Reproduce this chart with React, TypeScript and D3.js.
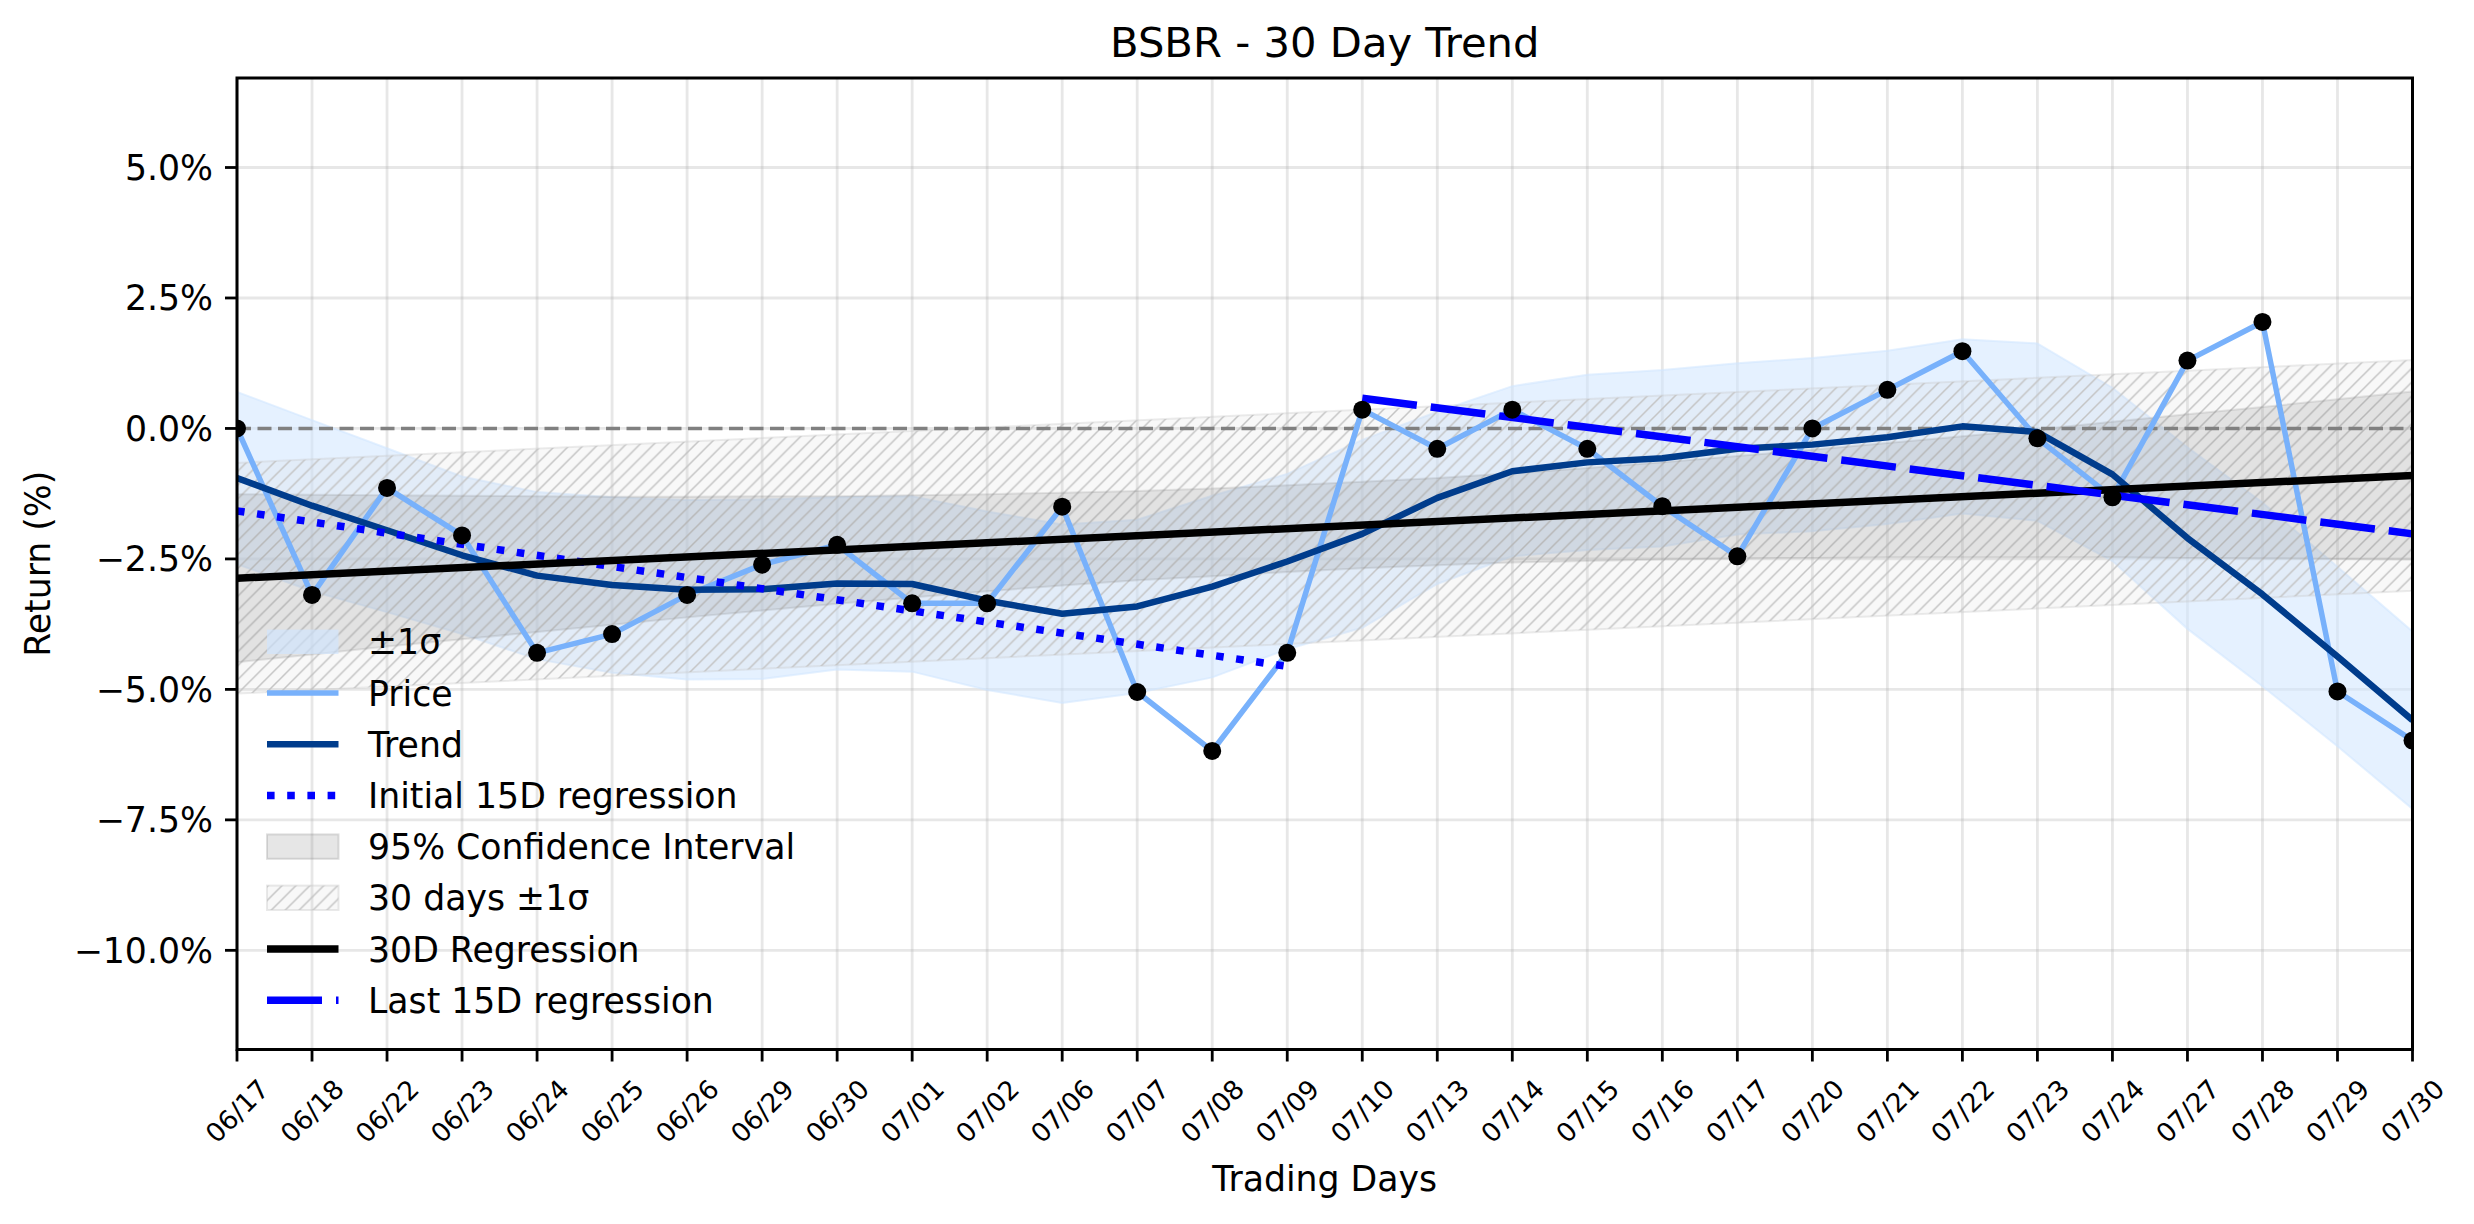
import * as d3 from "d3";

const WIDTH = 2474;
const HEIGHT = 1224;
const PLOT = { left: 237, right: 2412.5, top: 78, bottom: 1049.5 };
const FONT = "'DejaVu Sans', sans-serif";

// trading days on the x axis
const days = [
  "06/17", "06/18", "06/22", "06/23", "06/24", "06/25", "06/26", "06/29", "06/30", "07/01",
  "07/02", "07/06", "07/07", "07/08", "07/09", "07/10", "07/13", "07/14", "07/15", "07/16",
  "07/17", "07/20", "07/21", "07/22", "07/23", "07/24", "07/27", "07/28", "07/29", "07/30",
];

// cumulative return (%)
const price = [
  0.0, -3.19, -1.14, -2.05, -4.3, -3.94, -3.19, -2.61, -2.23, -3.35,
  -3.35, -1.5, -5.05, -6.18, -4.3, 0.36, -0.39, 0.36, -0.39, -1.49,
  -2.45, 0.0, 0.74, 1.48, -0.19, -1.32, 1.3, 2.04, -5.04, -5.98,
];

const trend = [
  -0.95, -1.48, -1.95, -2.43, -2.82, -3.0, -3.09, -3.08, -2.97, -2.98,
  -3.3, -3.55, -3.41, -3.03, -2.55, -2.02, -1.33, -0.82, -0.65, -0.57,
  -0.39, -0.31, -0.17, 0.04, -0.07, -0.88, -2.1, -3.18, -4.37, -5.59,
];

// ±1σ band around the trend
const sigmaUpper = [
  0.7, 0.16, -0.38, -0.92, -1.22, -1.32, -1.37, -1.36, -1.32, -1.3,
  -1.59, -1.84, -1.75, -1.29, -0.87, -0.22, 0.32, 0.81, 1.03, 1.12,
  1.25, 1.35, 1.49, 1.71, 1.63, 0.78, -0.36, -1.42, -2.65, -3.89,
];
const sigmaLower = [
  -2.6, -3.12, -3.52, -3.94, -4.42, -4.68, -4.81, -4.8, -4.62, -4.66,
  -5.01, -5.26, -5.07, -4.77, -4.23, -3.82, -2.98, -2.45, -2.33, -2.26,
  -2.03, -1.97, -1.83, -1.63, -1.77, -2.54, -3.84, -4.94, -6.09, -7.29,
];

// 95% confidence interval of the 30D regression
const ciUpper = [
  -1.26, -1.27, -1.28, -1.29, -1.3, -1.31, -1.31, -1.3, -1.3, -1.28,
  -1.26, -1.23, -1.2, -1.15, -1.09, -1.02, -0.95, -0.86, -0.76, -0.65,
  -0.53, -0.41, -0.28, -0.15, -0.02, 0.13, 0.27, 0.41, 0.56, 0.71,
];
const ciLower = [
  -4.48, -4.33, -4.18, -4.04, -3.9, -3.76, -3.62, -3.49, -3.36, -3.24,
  -3.12, -3.01, -2.91, -2.83, -2.75, -2.68, -2.62, -2.57, -2.54, -2.51,
  -2.49, -2.48, -2.47, -2.47, -2.47, -2.47, -2.48, -2.49, -2.5, -2.51,
];

// straight lines: [first day, last day] with their values
const band30Days = ["06/17", "07/30"];
const band30Upper = [-0.66, 1.31];
const band30Lower = [-5.08, -3.11];
const reg30Days = ["06/17", "07/30"];
const reg30 = [-2.87, -0.9];
const initRegDays = ["06/17", "07/09"];
const initReg = [-1.58, -4.56];
const lastRegDays = ["07/10", "07/30"];
const lastReg = [0.58, -2.02];

const yTicks = [-10, -7.5, -5, -2.5, 0, 2.5, 5];

const legendLabels = [
  "±1σ",
  "Price",
  "Trend",
  "Initial 15D regression",
  "95% Confidence Interval",
  "30 days ±1σ",
  "30D Regression",
  "Last 15D regression",
];

const PRICE_COLOR = "#78b1fb";
const TREND_COLOR = "#003c8c";
const REG_BLUE = "#0000ff";

type Pt = [string, number];
type Band = [string, number, number];

export default function App() {
  const x = d3.scalePoint<string>().domain(days).range([PLOT.left, PLOT.right]);
  const y = d3.scaleLinear().domain([-11.9, 6.715]).range([PLOT.bottom, PLOT.top]);

  const line = d3
    .line<Pt>()
    .x((d) => x(d[0])!)
    .y((d) => y(d[1]));
  const area = d3
    .area<Band>()
    .x((d) => x(d[0])!)
    .y0((d) => y(d[1]))
    .y1((d) => y(d[2]));

  const pts = (ds: string[], vs: number[]): Pt[] => ds.map((d, i) => [d, vs[i]]);
  const band = (ds: string[], lo: number[], hi: number[]): Band[] =>
    ds.map((d, i) => [d, lo[i], hi[i]]);

  const fmt = (v: number) => v.toFixed(1).replace("-", "\u2212") + "%";

  const legendX0 = 267;
  const legendX1 = 338.5;
  const legendTextX = 368;
  const legendY0 = 641.8;
  const legendStep = 51.2;

  const legendHandle = (i: number, cy: number) => {
    switch (i) {
      case 0:
        return (
          <rect x={legendX0} y={cy - 12.2} width={legendX1 - legendX0} height={24.4}
            fill="#cfe5ff" fillOpacity={0.65} />
        );
      case 1:
        return <line x1={legendX0} x2={legendX1} y1={cy} y2={cy} stroke={PRICE_COLOR} strokeWidth={5.5} />;
      case 2:
        return <line x1={legendX0} x2={legendX1} y1={cy} y2={cy} stroke={TREND_COLOR} strokeWidth={6.5} />;
      case 3:
        return (
          <line x1={legendX0} x2={legendX1} y1={cy} y2={cy} stroke={REG_BLUE} strokeWidth={7.5}
            strokeDasharray="7.6,12.6" />
        );
      case 4:
        return (
          <rect x={legendX0} y={cy - 12.2} width={legendX1 - legendX0} height={24.4}
            fill="#808080" fillOpacity={0.2} stroke="#808080" strokeOpacity={0.25} strokeWidth={2} />
        );
      case 5:
        return (
          <g>
            <rect x={legendX0} y={cy - 12.2} width={legendX1 - legendX0} height={24.4}
              fill="#d0d0d0" fillOpacity={0.15} stroke="#c8c8c8" strokeOpacity={0.4} strokeWidth={2} />
            <rect x={legendX0} y={cy - 12.2} width={legendX1 - legendX0} height={24.4} fill="url(#hatch)" />
          </g>
        );
      case 6:
        return <line x1={legendX0} x2={legendX1} y1={cy} y2={cy} stroke="#000" strokeWidth={7.5} />;
      default:
        return (
          <line x1={legendX0} x2={legendX1} y1={cy} y2={cy} stroke={REG_BLUE} strokeWidth={7.5}
            strokeDasharray="55,14" />
        );
    }
  };

  const hs = 13.9;

  return (
    <div style={{ position: "absolute", left: 0, top: 0 }}>
      <svg width={WIDTH} height={HEIGHT} style={{ display: "block", background: "#fff" }} fontFamily={FONT}>
        <defs>
          <clipPath id="plot-clip">
            <rect x={PLOT.left} y={PLOT.top} width={PLOT.right - PLOT.left} height={PLOT.bottom - PLOT.top} />
          </clipPath>
          <pattern id="hatch" patternUnits="userSpaceOnUse" width={hs} height={hs}>
            <path
              d={`M-1,1 l2,-2 M0,${hs} l${hs},${-hs} M${hs - 1},${hs + 1} l2,-2`}
              stroke="#c4c4c4"
              strokeWidth={1.5}
            />
          </pattern>
        </defs>

        {/* grid */}
        <g stroke="#b0b0b0" strokeOpacity={0.3} strokeWidth={2.8}>
          {days.map((d) => (
            <line key={d} x1={x(d)} x2={x(d)} y1={PLOT.top} y2={PLOT.bottom} />
          ))}
          {yTicks.map((t) => (
            <line key={t} x1={PLOT.left} x2={PLOT.right} y1={y(t)} y2={y(t)} />
          ))}
        </g>

        <g clipPath="url(#plot-clip)">
          {/* ±1σ band */}
          <path d={area(band(days, sigmaLower, sigmaUpper))!} fill="#cfe5ff" fillOpacity={0.55}
            stroke="#cfe5ff" strokeOpacity={0.55} strokeWidth={2} />
          {/* 30 days ±1σ hatched band */}
          <path d={area(band(band30Days, band30Lower, band30Upper))!} fill="#d0d0d0" fillOpacity={0.15}
            stroke="#c8c8c8" strokeOpacity={0.35} strokeWidth={2} />
          <path d={area(band(band30Days, band30Lower, band30Upper))!} fill="url(#hatch)" />
          {/* 95% CI */}
          <path d={area(band(days, ciLower, ciUpper))!} fill="#808080" fillOpacity={0.18}
            stroke="#808080" strokeOpacity={0.18} strokeWidth={2} />

          {/* zero line */}
          <line x1={PLOT.left} x2={PLOT.right} y1={y(0)} y2={y(0)} stroke="#808080" strokeWidth={3.5}
            strokeDasharray="14,6.5" />

          <path d={line(pts(days, price))!} fill="none" stroke={PRICE_COLOR} strokeWidth={5.5}
            strokeLinejoin="round" />
          <path d={line(pts(days, trend))!} fill="none" stroke={TREND_COLOR} strokeWidth={6.5}
            strokeLinejoin="round" />
          <path d={line(pts(initRegDays, initReg))!} fill="none" stroke={REG_BLUE} strokeWidth={7.5}
            strokeDasharray="7.6,12.6" />
          <path d={line(pts(reg30Days, reg30))!} fill="none" stroke="#000" strokeWidth={7.5} />
          <path d={line(pts(lastRegDays, lastReg))!} fill="none" stroke={REG_BLUE} strokeWidth={7.5}
            strokeDasharray="55,14" />

          {price.map((v, i) => (
            <circle key={days[i]} cx={x(days[i])} cy={y(v)} r={9} fill="#000" />
          ))}
        </g>

        {/* spines */}
        <rect x={PLOT.left} y={PLOT.top} width={PLOT.right - PLOT.left} height={PLOT.bottom - PLOT.top}
          fill="none" stroke="#000" strokeWidth={3} />

        {/* y axis */}
        {yTicks.map((t) => (
          <g key={t}>
            <line x1={PLOT.left - 12} x2={PLOT.left} y1={y(t)} y2={y(t)} stroke="#000" strokeWidth={2.8} />
            <text x={PLOT.left - 24} y={y(t)} dy="0.36em" textAnchor="end" fontSize={34.7} fill="#000">
              {fmt(t)}
            </text>
          </g>
        ))}

        {/* x axis */}
        {days.map((d) => (
          <g key={d}>
            <line x1={x(d)} x2={x(d)} y1={PLOT.bottom} y2={PLOT.bottom + 12} stroke="#000" strokeWidth={2.8} />
            <text transform={`translate(${x(d)},1111) rotate(-45)`} dy="0.36em" textAnchor="middle"
              fontSize={26.4} fill="#000">
              {d}
            </text>
          </g>
        ))}

        <text x={(PLOT.left + PLOT.right) / 2} y={1191} textAnchor="middle" fontSize={34.7} fill="#000">
          Trading Days
        </text>
        <text transform={`translate(50,${(PLOT.top + PLOT.bottom) / 2}) rotate(-90)`} textAnchor="middle"
          fontSize={34.7} fill="#000">
          Return (%)
        </text>
        <text x={(PLOT.left + PLOT.right) / 2} y={57} textAnchor="middle" fontSize={41.7} fill="#000">
          BSBR - 30 Day Trend
        </text>

        {/* legend */}
        {legendLabels.map((label, i) => {
          const cy = legendY0 + i * legendStep;
          return (
            <g key={label}>
              {legendHandle(i, cy)}
              <text x={legendTextX} y={cy + 12.6} fontSize={34.7} fill="#000">
                {label}
              </text>
            </g>
          );
        })}
      </svg>
    </div>
  );
}
